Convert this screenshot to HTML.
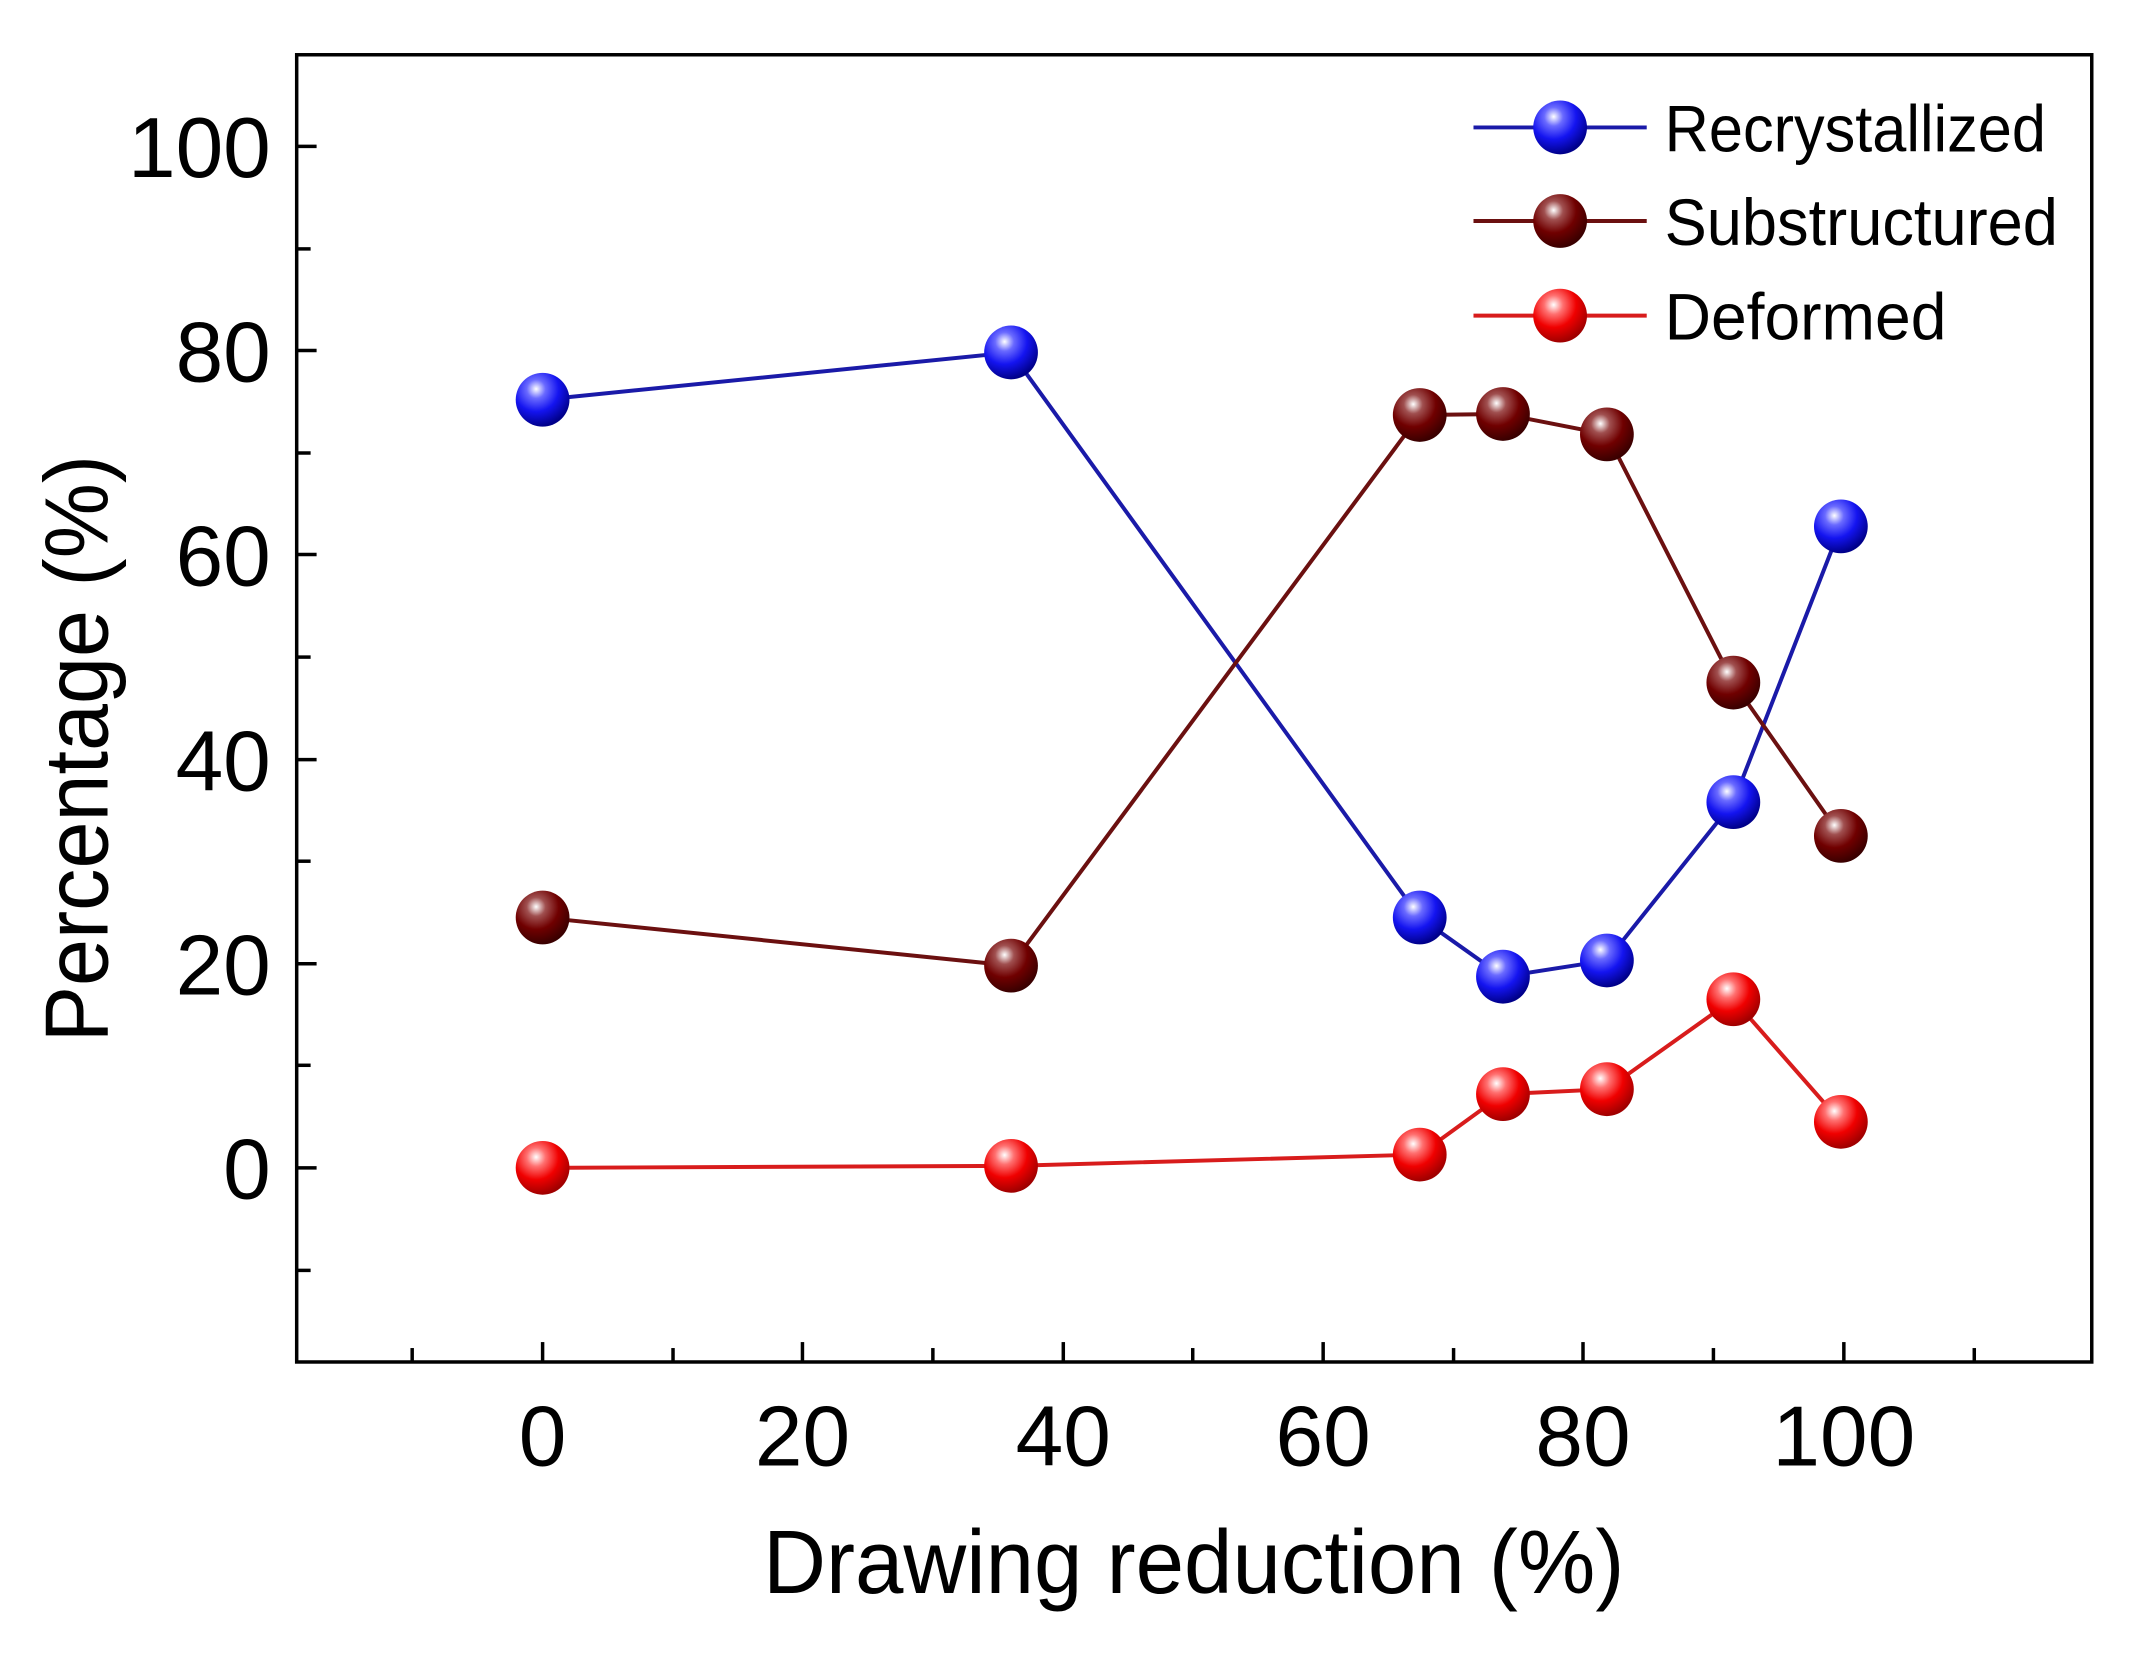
<!DOCTYPE html>
<html><head><meta charset="utf-8"><style>html,body{margin:0;padding:0;background:#fff}svg{display:block}</style></head>
<body>
<svg xmlns="http://www.w3.org/2000/svg" width="2142" height="1660" viewBox="0 0 2142 1660">
<defs>
<radialGradient id="gb" cx="0.38" cy="0.3" r="0.7"><stop offset="0" stop-color="#fff"/><stop offset="0.25" stop-color="#6a6aff"/><stop offset="0.6" stop-color="#1414f0"/><stop offset="1" stop-color="#00008a"/></radialGradient>
<radialGradient id="gs" cx="0.38" cy="0.3" r="0.7"><stop offset="0" stop-color="#fff"/><stop offset="0.25" stop-color="#a05050"/><stop offset="0.6" stop-color="#700000"/><stop offset="1" stop-color="#3a0000"/></radialGradient>
<radialGradient id="gr" cx="0.38" cy="0.3" r="0.7"><stop offset="0" stop-color="#fff"/><stop offset="0.25" stop-color="#ff7070"/><stop offset="0.6" stop-color="#f00000"/><stop offset="1" stop-color="#a00000"/></radialGradient>
</defs>
<rect x="0" y="0" width="2142" height="1660" fill="#fff"/>
<g transform="scale(0.9956)">
<rect x="298" y="55" width="1803" height="1313" fill="none" stroke="#000" stroke-width="3.5"/>
<g stroke="#000" stroke-width="3.5">
<line x1="414" y1="1368" x2="414" y2="1354"/>
<line x1="545" y1="1368" x2="545" y2="1348"/>
<line x1="676" y1="1368" x2="676" y2="1354"/>
<line x1="806" y1="1368" x2="806" y2="1348"/>
<line x1="937" y1="1368" x2="937" y2="1354"/>
<line x1="1068" y1="1368" x2="1068" y2="1348"/>
<line x1="1198" y1="1368" x2="1198" y2="1354"/>
<line x1="1329" y1="1368" x2="1329" y2="1348"/>
<line x1="1460" y1="1368" x2="1460" y2="1354"/>
<line x1="1590" y1="1368" x2="1590" y2="1348"/>
<line x1="1721" y1="1368" x2="1721" y2="1354"/>
<line x1="1852" y1="1368" x2="1852" y2="1348"/>
<line x1="1983" y1="1368" x2="1983" y2="1354"/>
<line x1="298" y1="1276" x2="312" y2="1276"/>
<line x1="298" y1="1173" x2="318" y2="1173"/>
<line x1="298" y1="1070" x2="312" y2="1070"/>
<line x1="298" y1="968" x2="318" y2="968"/>
<line x1="298" y1="865" x2="312" y2="865"/>
<line x1="298" y1="763" x2="318" y2="763"/>
<line x1="298" y1="660" x2="312" y2="660"/>
<line x1="298" y1="557" x2="318" y2="557"/>
<line x1="298" y1="455" x2="312" y2="455"/>
<line x1="298" y1="352" x2="318" y2="352"/>
<line x1="298" y1="250" x2="312" y2="250"/>
<line x1="298" y1="147" x2="318" y2="147"/>
</g>
<g font-family="Liberation Sans, sans-serif" font-size="86" fill="#000">
<g text-anchor="middle">
<text x="545" y="1472">0</text><text x="806" y="1472">20</text><text x="1068" y="1472">40</text><text x="1329" y="1472">60</text><text x="1590" y="1472">80</text><text x="1852" y="1472">100</text>
</g>
<g text-anchor="end">
<text x="272" y="1204">0</text><text x="272" y="999">20</text><text x="272" y="794">40</text><text x="272" y="588">60</text><text x="272" y="383">80</text><text x="272" y="178">100</text>
</g>
<text x="1199" y="1600" text-anchor="middle" font-size="90" textLength="865" lengthAdjust="spacingAndGlyphs">Drawing reduction (%)</text>
<text transform="translate(108,752) rotate(-90)" text-anchor="middle" font-size="90" textLength="590" lengthAdjust="spacingAndGlyphs">Percentage (%)</text>
</g>
<g fill="none" stroke-width="4">
<polyline stroke="#1a1aa8" points="545,401.5 1015.5,354 1426,921.6 1509.6,981 1614,964.7 1741,805.7 1849,528.7"/>
<polyline stroke="#6b1010" points="545,921.6 1015.5,969.9 1426,416.8 1509.6,415.8 1614,436.3 1741,685.6 1849,839.6"/>
<polyline stroke="#d81c1c" points="545,1173 1015.5,1171 1426,1159.7 1509.6,1099 1614,1094 1741,1003.7 1849,1126.8"/>
<line stroke="#1a1aa8" x1="1480" y1="128" x2="1654" y2="128"/>
<line stroke="#6b1010" x1="1480" y1="222" x2="1654" y2="222"/>
<line stroke="#d81c1c" x1="1480" y1="317" x2="1654" y2="317"/>
</g>
<g fill="url(#gb)">
<circle cx="545" cy="401.5" r="27"/><circle cx="1015.5" cy="354" r="27"/><circle cx="1426" cy="921.6" r="27"/><circle cx="1509.6" cy="981" r="27"/><circle cx="1614" cy="964.7" r="27"/><circle cx="1741" cy="805.7" r="27"/><circle cx="1849" cy="528.7" r="27"/><circle cx="1567" cy="128" r="27"/>
</g>
<g fill="url(#gs)">
<circle cx="545" cy="921.6" r="27"/><circle cx="1015.5" cy="969.9" r="27"/><circle cx="1426" cy="416.8" r="27"/><circle cx="1509.6" cy="415.8" r="27"/><circle cx="1614" cy="436.3" r="27"/><circle cx="1741" cy="685.6" r="27"/><circle cx="1849" cy="839.6" r="27"/><circle cx="1567" cy="222" r="27"/>
</g>
<g fill="url(#gr)">
<circle cx="545" cy="1173" r="27"/><circle cx="1015.5" cy="1171" r="27"/><circle cx="1426" cy="1159.7" r="27"/><circle cx="1509.6" cy="1099" r="27"/><circle cx="1614" cy="1094" r="27"/><circle cx="1741" cy="1003.7" r="27"/><circle cx="1849" cy="1126.8" r="27"/><circle cx="1567" cy="317" r="27"/>
</g>
<g font-family="Liberation Sans, sans-serif" font-size="66" fill="#000">
<text x="1672" y="152" textLength="383" lengthAdjust="spacingAndGlyphs">Recrystallized</text>
<text x="1672" y="246" textLength="395" lengthAdjust="spacingAndGlyphs">Substructured</text>
<text x="1672" y="341" textLength="283" lengthAdjust="spacingAndGlyphs">Deformed</text>
</g>
</g>
</svg>
</body></html>
